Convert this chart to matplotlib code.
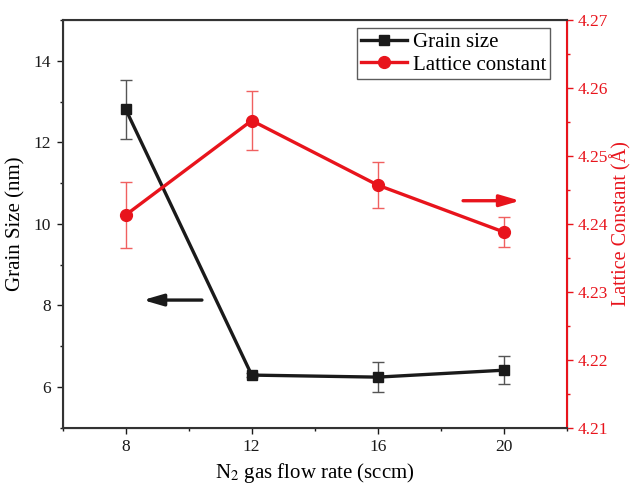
import matplotlib
matplotlib.use('Agg')
import matplotlib.pyplot as plt
from matplotlib.lines import Line2D
from matplotlib.ticker import MultipleLocator

plt.rcParams['font.family'] = ['Liberation Serif', 'DejaVu Serif']
plt.rcParams['mathtext.fontset'] = 'stix'

flow = [8, 12, 16, 20]
grain = [12.81, 6.29, 6.24, 6.41]
grain_err = [0.72, 0.05, 0.37, 0.35]
lattice = [4.2413, 4.2552, 4.2457, 4.2388]
lattice_err = [0.0049, 0.0044, 0.0034, 0.0022]

black = "#1a1a1a"
red = "#e8141c"

fig = plt.figure(figsize=(6.32, 4.87), dpi=100)
ax = fig.add_axes([0.0992, 0.1218, 0.7975, 0.8372])
ax2 = ax.twinx()

ax.errorbar(flow, grain, yerr=grain_err, color=black, marker="s",
            markersize=7, linewidth=2.4, ecolor="#555555", elinewidth=1,
            capsize=4, capthick=1, zorder=3)
ax2.errorbar(flow, lattice, yerr=lattice_err, color=red, marker="o",
             markersize=8.5, linewidth=2.4, ecolor="#f06060", elinewidth=1,
             capsize=4, capthick=1, zorder=3)

ax.set_xlim(6, 22)
ax.set_ylim(5, 15)
ax2.set_ylim(4.21, 4.27)
ax.set_xticks(flow)
ax.xaxis.set_minor_locator(MultipleLocator(2))
ax.yaxis.set_major_locator(MultipleLocator(2))
ax.yaxis.set_minor_locator(MultipleLocator(1))
ax2.yaxis.set_major_locator(MultipleLocator(0.01))
ax2.yaxis.set_minor_locator(MultipleLocator(0.005))
ax2.set_yticklabels([f"{v:.2f}" for v in ax2.get_yticks()])

ax.tick_params(axis="both", which="major", direction="out", length=4.5,
               width=1, labelsize=12.5, colors=black, pad=4)
ax.tick_params(axis="both", which="minor", direction="out", length=2.5,
               width=1, colors=black)
ax2.tick_params(axis="y", which="major", direction="out", length=4.5,
                width=1, labelsize=12.5, colors=red, pad=3)
ax2.tick_params(axis="y", which="minor", direction="out", length=2.5,
                width=1, colors=red)

for s in ["left", "bottom", "top"]:
    ax2.spines[s].set_color("#333333")
    ax2.spines[s].set_linewidth(1.5)
ax2.spines["right"].set_color(red)
ax2.spines["right"].set_linewidth(1.5)

ax.set_xlabel("N$_2$ gas flow rate (sccm)", fontsize=15, labelpad=4)
ax.set_ylabel("Grain Size (nm)", fontsize=15, labelpad=6)
ax2.set_ylabel("Lattice Constant (Å)", fontsize=14.5, color=red, labelpad=2)

# direction arrows
astyle = "-|>,head_length=1.2,head_width=0.35"
ax.annotate("", xy=(8.55, 8.13), xytext=(10.42, 8.13),
            arrowprops=dict(arrowstyle=astyle, color=black, lw=2.4,
                            shrinkA=0, shrinkB=0))
ax2.annotate("", xy=(20.52, 4.2434), xytext=(18.71, 4.2434),
             arrowprops=dict(arrowstyle=astyle, color=red, lw=2.4,
                             shrinkA=0, shrinkB=0))

handles = [Line2D([0], [0], color=black, marker="s", markersize=7, lw=2.4),
           Line2D([0], [0], color=red, marker="o", markersize=8.5, lw=2.4)]
leg = ax2.legend(handles, ["Grain size", "Lattice constant"],
                 loc="upper right", bbox_to_anchor=(0.976, 0.99),
                 fontsize=15, frameon=True, fancybox=False,
                 handlelength=2.2, borderpad=0.2, labelspacing=0.15,
                 handletextpad=0.3, borderaxespad=0.2)
leg.get_frame().set_edgecolor("#333333")
leg.get_frame().set_linewidth(1)

plt.savefig("out.png", dpi=100)
